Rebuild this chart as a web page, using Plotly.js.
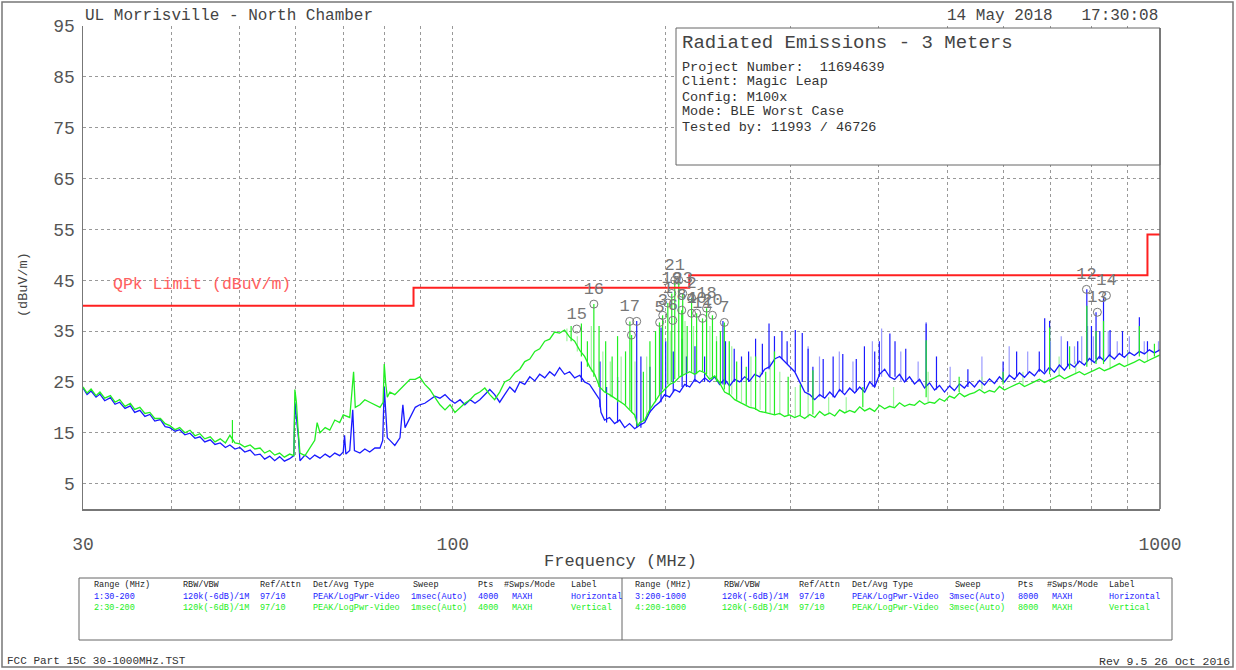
<!DOCTYPE html>
<html><head><meta charset="utf-8">
<script src="https://cdn.plot.ly/plotly-3.0.1.min.js"></script>
<style>html,body{margin:0;padding:0;background:#fff}#chart{width:1236px;height:670px}</style>
</head><body><div id="chart"></div>
<script>
// ---------- DATA ----------
const hFreq = [
 30,30.4,30.8,31.3,31.7,32.2,32.8,33.3,33.8,34.4,
 35.0,35.5,36.1,36.7,37.3,37.9,38.6,39.2,39.8,40.5,
 41.1,41.8,42.5,43.2,43.9,44.6,45.4,46.1,46.9,47.7,
 48.4,49.2,50.0,50.8,51.7,52.5,53.4,54.2,55.1,56.0,
 56.9,57.8,58.8,59.6,
 59.8,60.1,60.5,60.8,61.8,62.8,63.8,64.9,66.0,67.0,
 68.1,69.2,70.0,70.3,70.6,71.5,72.2,72.6,73.9,75.1,
 76.3,77.6,78.9,79.6,80.0,80.4,80.8,81.5,82.8,84.2,
 85.0,85.6,87.0,88.5,89.8,91.3,92.8,94.3,95.9,97.5,
 99.1,100.7,102.4,104,105.8,107.5,109.2,111,112.8,114.6,
 116.5,118.4,120.4,122.4,124.4,126.4,128.5,130.6,132.7,134.9,
 137.1,139.3,141.6,143.9,146.3,148.7,151.2,153.6,156.1,158.7,
 161.3,162,163.9,166.6,169.4,172.2,175,177.8,180.8,183.8,
 186.8,189.8,193,196.1,199.3,202.6,206,209.3,212.8,216.3,
 219.8,223.4,227.1,230.8,234.6,238.4,242.3,246.3,250.4,254.5,
 258.7,262.9,267.2,271.6,276.1,280.6,285.2,289.9,294.6,299.5,
 304.4,309.4,314.5,319.7,324.9,330.2,335.7,341.2,346.8,352.4,
 358.2,364.1,370.1,376.1,382.3,388.6,394.9,401.3,408,414.6,
 421.4,428.2,435.3,442.4,449.7,457.1,464.6,472.2,480,487.8,
 495.8,504,512,520.6,529,537.8,546.6,555.6,564.7,574,
 583.4,592.9,602.6,612.5,622.6,632.8,643.2,653.8,664.5,675.3,
 686.4,697.7,709,720.7,732.6,744.6,756.8,769.2,781.8,794.7,
 807.8,820.9,834.4,848.2,862,876.1,890.5,905.1,920,935.2,
 950.5,966,982,1000];
const hLevel = [
 23.8,22.5,23.2,22.0,22.6,21.3,21.9,20.6,21.0,19.8,
 20.3,19.0,19.4,18.2,18.6,17.3,17.6,16.2,16.0,15.3,
 15.6,14.6,14.9,13.9,14.2,13.2,13.6,12.7,13.0,12.1,
 12.6,11.8,12.1,11.2,11.6,10.6,10.8,9.8,10.4,9.5,
 10.3,9.4,9.9,10.5,
 21.0,18.0,14.0,9.5,10.6,9.8,10.6,10.0,10.8,10.2,
 11.0,10.5,11.2,14.5,10.8,11.5,19.5,11.5,11.0,11.8,
 11.2,12.0,12.0,13.5,24.0,19.0,14.0,13.5,12.5,14.0,
 20.5,16.0,18.0,20.0,20.5,20.8,21.5,22.2,21.8,22.5,
 21.5,20.8,21.5,20.5,21.5,20.8,21.5,22.5,23.5,22.5,
 21.0,22.5,24.0,23.0,25.0,24.5,26.0,25.2,26.5,25.8,
 27.0,26.2,27.8,26.5,27.0,25.8,26.3,25.0,24.5,23.0,
 21.5,19.0,17.5,18.0,16.8,17.5,16.0,16.8,15.8,16.5,
 17.0,19.0,20.2,21.0,22.5,22.0,23.5,23.0,24.5,24.0,
 25.5,24.8,25.8,25.0,26.0,24.5,25.5,24.2,25.5,25.0,
 26.0,25.2,26.5,26.0,27.5,28.0,29.5,30.0,29.0,28.0,
 27.0,25.0,23.0,22.5,21.5,22.5,21.8,23.0,22.0,23.5,
 22.5,23.8,22.8,24.0,23.0,25.0,24.0,26.5,27.5,26.0,
 25.5,26.5,25.0,26.0,24.6,25.5,23.8,24.8,23.4,24.3,
 23.0,24.2,23.3,24.6,23.8,25.0,24.0,25.3,24.4,25.6,
 24.7,26.0,25.0,26.3,25.5,26.8,25.9,27.0,26.2,27.5,
 26.6,27.9,26.9,28.3,27.3,28.6,27.9,29.1,28.3,29.6,
 28.8,30.0,29.1,30.3,29.5,30.6,29.8,30.8,30.2,31.0,
 30.5,31.3,30.7,31.3];

const vFreq = [
 30,30.4,30.8,31.3,31.7,32.2,32.8,33.3,33.8,34.4,
 35.0,35.5,36.1,36.7,37.3,37.9,38.6,39.2,39.8,40.5,
 41.1,41.8,42.5,43.2,43.9,44.6,45.4,46.1,46.9,47.7,
 48.4,49.2,50.0,50.8,51.7,52.5,53.4,54.2,55.1,56.0,
 56.9,57.8,58.8,59.6,
 59.8,60.1,60.4,60.8,61.8,62.8,63.8,64.3,64.9,66.0,
 67.0,68.1,69.2,70.0,71.5,72.4,72.8,73.9,75.1,76.3,
 77.6,78.9,79.7,80.0,80.4,80.8,81.5,82.8,84.2,85.6,
 87.0,88.5,89.8,91.3,92.8,94.3,95.9,97.5,99.1,100.7,
 102.4,104,105.8,107.5,109.2,111,112.8,114.6,116.5,118.4,
 120.4,122.4,124.4,126.4,128.5,130.6,132.7,134.9,137.1,139.3,
 141.6,143.9,146.3,148.7,151.2,153.6,156.1,158.7,161.3,163.9,
 166.6,169.4,172.2,175,177.8,180.8,182.6,183.8,186.8,189.8,
 193,196.1,199.3,202.6,206,209.3,212.8,216.3,219.8,223.4,
 227.1,230.8,234.6,238.4,242.3,246.3,250.4,254.5,258.7,262.9,
 267.2,271.6,276.1,280.6,285.2,289.9,294.6,299.5,
 304.4,309.4,314.5,319.7,324.9,330.2,335.7,341.2,346.8,352.4,
 358.2,364.1,370.1,376.1,382.3,388.6,394.9,401.3,408,414.6,
 421.4,428.2,435.3,442.4,449.7,457.1,464.6,472.2,480,487.8,
 495.8,504,512,520.6,529,537.8,546.6,555.6,564.7,574,
 583.4,592.9,602.6,612.5,622.6,632.8,643.2,653.8,664.5,675.3,
 686.4,697.7,709,720.7,732.6,744.6,756.8,769.2,781.8,794.7,
 807.8,820.9,834.4,848.2,862,876.1,890.5,905.1,920,935.2,
 950.5,966,982,1000];
const vLevel = [
 24.0,22.8,23.6,22.3,23.0,21.8,22.3,21.0,21.5,20.2,
 20.8,19.6,20.0,18.8,19.0,17.8,17.8,16.8,16.4,15.6,
 16.0,15.0,15.5,14.4,14.8,13.8,14.2,13.2,13.8,13.0,
 14.5,13.0,12.8,12.2,12.6,11.8,12.0,11.0,11.5,10.6,
 11.0,10.2,10.8,10.5,
 23.5,21.0,16.0,11.0,10.5,12.0,13.5,17.0,15.0,16.0,
 15.5,17.5,17.0,18.5,18.0,27.0,20.0,20.5,21.5,21.0,
 20.5,20.0,21.0,28.5,24.5,22.0,23.0,22.5,23.5,24.5,
 25.5,25.5,26.0,24.5,23.5,22.0,20.5,19.5,20.5,19.0,
 20.0,20.8,21.5,22.5,23.0,23.8,22.5,21.5,23.0,25.0,
 25.5,26.8,27.5,29.0,29.5,31.0,31.5,33.0,33.4,34.8,
 34.6,35.2,33.8,33.0,31.2,30.0,28.0,26.5,24.0,23.0,
 22.5,21.8,21.0,20.5,19.5,18.5,16.3,17.0,17.5,19.5,
 21.0,22.5,23.5,24.5,25.0,26.0,26.5,27.0,26.5,27.2,
 26.8,25.5,26.2,24.8,23.0,22.5,21.5,21.0,20.5,20.0,
 19.8,19.2,19.0,18.8,18.5,18.8,18.2,18.5,
 18.0,18.4,17.8,18.6,18.0,19.2,18.4,18.9,18.3,19.5,
 18.9,19.4,19.0,20.1,19.3,19.8,19.2,20.4,19.7,20.2,
 19.9,20.9,20.2,20.6,20.4,21.3,20.6,21.0,20.8,21.7,
 21.2,22.2,21.8,22.8,22.1,22.6,22.9,23.5,22.8,23.3,
 23.0,24.1,23.4,23.9,24.3,24.8,24.1,24.6,25.0,25.5,
 24.9,25.3,25.8,26.3,25.6,26.1,26.5,27.0,26.4,26.8,
 27.3,27.8,27.2,27.6,28.1,28.6,28.0,28.4,28.9,29.4,
 28.8,29.3,29.8,30.3];

// narrow emissions (spikes): frequency, floor, top
const hSpikeFreq = [152,161.5,165,171,182,184.5,190,197,200,205,211,214,220,227,241,243,250,256,262,268,274,280,285,292,297,305,312,318,323,334,345,356,372,382,395,401,415,422,437,467,483,535,600,627,675,687,698,740,765,788,800,812,822,832,850,885,935,960];
const hSpikeLow  = [25,20,17,17,16,16,19,21,22,23,24,24,25,25,24.5,24.5,25,25,25,26,26.5,27.5,29,29.5,28.5,27,25,23,21.5,22,22,23,23,23.5,24,26,26,26,25,24,23.5,24,25.5,26,27,27,27.5,28,28.5,29,29,29.5,29.5,29.5,30,30,31,31];
const hSpikeHigh = [29,29,24,26,37,30,28,35.7,33,31,33.5,30,32,30,37,33,31.5,30,31,33.5,32.5,36.5,34,35,33,35.2,34.6,31.5,28,29.5,30,30.5,29.5,32,31,33,34.5,33,31.5,36.5,30,27.5,29,31,31,37.5,37,33,33,43.2,36,38.7,35,41.9,35.2,35,37.7,33];

const vSpikeFreq = [48.8,147,152,155,158.3,161,164.5,168,171,175.5,178,179,186,190,193.5,196,198,201.4,204,206,208.7,210.7,211.4,214.5,217.6,221.2,225.5,228.5,232.9,236,239,242.1,246,252,260,268,277,285,298,310,323,380,467,520,600,698,745,788,812,832,935,982];
const vSpikeLow  = [13,33,30,28,26,24,23,22,21,20.5,19.5,19,17.5,19.5,21,22.5,23.5,24.5,25,25.5,26,26,26.5,27,27,26.5,27,26.5,25.5,25,24.5,23.5,22.5,21.5,20.5,19.5,19,18.5,18.5,18.4,18.6,20,22,23,24.5,26.5,27.5,28,28.5,28.5,30,30];
const vSpikeHigh = [17.5,36,36.5,33,40.3,36,33,30,34,31,36.9,34.2,27,33,35,36.7,38.1,40.5,42.4,45,45,39.1,42.4,36,41.5,38.5,37.5,39.5,38.1,33,35,36.7,33,29,28,30,27,31,26,24.5,27.3,24,33.2,26,27,35.7,32,40,35,37,36,32.5];

// weaker (lighter drawn) emissions
const hLightFreq = [318,330,352,368,392,404,430,455,467,505,560,612,650,700,725,757,775,790,805,845,870,905,950,995];
const hLightLow  = [23,22,23,23,24,26,25,25,24,24,24.5,26,26.5,27.5,28,28.5,28.5,29,29,30,30,30.5,30.5,31];
const hLightHigh = [32,30,31,29,33,35.5,31,29,36.8,28,30,32,31,33,34,32,34,36,34,35,33,34,33,33];
const vLightFreq = [145,150,157,163,167,173,181,188,203,213,219,231,236,248,256,264,272,281,290,305,318,340,360,420,470,560,640,720,760,850,900,960];
const vLightLow  = [33,31,27,23.5,22,21,18,17.5,24.5,26.5,26.5,25.5,25,22.5,21,20,19.5,18.8,18.5,18,18,18.6,19,20,21,23.5,24.3,26,26.5,27.5,28.3,29];
const vLightHigh = [35.5,34,36,31,29,30,29,30,35,37,36,36,34,32,29,30,27,29,27,24,26,22,22,24,27,26,27,30,29,31,31,31];

// QP limit (FCC Part 15 class B, 3 m)
const limitFreq  = [30,88,88,216,216,960,960,1000];
const limitLevel = [40,40,43.5,43.5,46,46,54,54];

// marker table
const markerFreq  = [149.7,158.3,177.9,182.0,178.9,196.1,198.1,201.4,204.7,204.0,206.0,208.7,211.4,210.7,217.6,217.6,221.2,225.5,228.5,232.9,242.1,787,815.5,840];
const markerLevel = [35.4,40.3,36.9,36.9,34.2,36.7,38.1,40.5,37.1,42.4,45.0,45.0,42.4,39.1,41.5,38.5,38.5,37.5,39.5,38.1,36.7,43.2,38.7,42.0];
const markerLabel = ["15","16","17","","","5","3","1","6","19","21","","23","8","2","4","10","11","18","20","7","12","13","14"];

const yTicks = [5,15,25,35,45,55,65,75,85,95];
const xTicks = [30,100,1000];
const xMinor = [40,50,60,70,80,90,200,300,400,500,600,700,800,900];

const tableHeader = ["Range (MHz)","RBW/VBW","Ref/Attn","Det/Avg Type","Sweep","Pts","#Swps/Mode","Label"];
const row1 = ["1:30-200","120k(-6dB)/1M","97/10","PEAK/LogPwr-Video","1msec(Auto)","4000","MAXH","Horizontal"];
const row2 = ["2:30-200","120k(-6dB)/1M","97/10","PEAK/LogPwr-Video","1msec(Auto)","4000","MAXH","Vertical"];
const row3 = ["3:200-1000","120k(-6dB)/1M","97/10","PEAK/LogPwr-Video","3msec(Auto)","8000","MAXH","Horizontal"];
const row4 = ["4:200-1000","120k(-6dB)/1M","97/10","PEAK/LogPwr-Video","3msec(Auto)","8000","MAXH","Vertical"];

const infoLines = ["Project Number:\u00a0\u00a011694639","Client: Magic Leap","Config: M100x","Mode: BLE Worst Case","Tested by: 11993 / 46726"];

// ---------- LAYOUT HELPERS ----------
const L=83, R=1160, T=26, B=509;
const px = x => (x-L)/(R-L);
const py = y => (B-y)/(B-T);
const MONO = '"Liberation Mono","DejaVu Sans Mono",monospace';
const BLUE='#1a1aff', GREEN='#22ee22', LBLUE='#9a9aff', LGREEN='#a0f5a0';

function spikes(f, lo, hi){
  const x=[], y=[];
  f.forEach((v,i)=>{x.push(v,v,null); y.push(lo[i],hi[i],null);});
  return {x,y};
}
const hs = spikes(hSpikeFreq,hSpikeLow,hSpikeHigh);
const vs = spikes(vSpikeFreq,vSpikeLow,vSpikeHigh);
const hl = spikes(hLightFreq,hLightLow,hLightHigh);
const vl = spikes(vLightFreq,vLightLow,vLightHigh);

const traces = [
  {x:hl.x,y:hl.y,type:'scatter',mode:'lines',line:{color:LBLUE,width:1.2},connectgaps:false,hoverinfo:'skip'},
  {x:vl.x,y:vl.y,type:'scatter',mode:'lines',line:{color:LGREEN,width:1.2},connectgaps:false,hoverinfo:'skip'},
  {x:hFreq,y:hLevel,type:'scatter',mode:'lines',line:{color:BLUE,width:1.3},hoverinfo:'skip'},
  {x:hs.x,y:hs.y,type:'scatter',mode:'lines',line:{color:BLUE,width:1.2},connectgaps:false,hoverinfo:'skip'},
  {x:vFreq,y:vLevel,type:'scatter',mode:'lines',line:{color:GREEN,width:1.3},hoverinfo:'skip'},
  {x:vs.x,y:vs.y,type:'scatter',mode:'lines',line:{color:GREEN,width:1.2},connectgaps:false,hoverinfo:'skip'},
  {x:limitFreq,y:limitLevel,type:'scatter',mode:'lines',line:{color:'#ff2020',width:2},hoverinfo:'skip'},
  {x:markerFreq,y:markerLevel,text:markerLabel,type:'scatter',mode:'markers+text',
   marker:{symbol:'circle-open',size:8,color:'#777',line:{width:1,color:'#777'}},
   textposition:'top center',textfont:{family:MONO,size:17,color:'#777'},cliponaxis:false,hoverinfo:'skip'}
];

const ann = [];
function A(text,x,y,opts){ann.push(Object.assign({text,x:px(x),y:py(y),xref:'paper',yref:'paper',showarrow:false,xanchor:'left',yanchor:'middle',font:{family:MONO,size:16,color:'#444'}},opts||{}));}

A('UL Morrisville - North Chamber',83,16);
A('14 May 2018\u00a0\u00a0\u00a017:30:08',1160,16,{xanchor:'right'});
A('Radiated Emissions - 3 Meters',680,43,{font:{family:MONO,size:19,color:'#444'}});
infoLines.forEach((t,i)=>A(t,680,67+i*15,{font:{family:MONO,size:13.5,color:'#333'}}));
A('QPk Limit (dBuV/m)',111,284,{font:{family:MONO,size:16.5,color:'#ff6060'}});
A('(dBuV/m)',24,285,{xanchor:'center',textangle:-90,font:{family:MONO,size:13.5,color:'#444'}});
A('Frequency (MHz)',620,561,{xanchor:'center',font:{family:MONO,size:17,color:'#444'}});
A('FCC Part 15C 30-1000MHz.TST',5,661,{font:{family:MONO,size:11,color:'#333'}});
A('Rev 9.5 26 Oct 2016',1232,661,{xanchor:'right',font:{family:MONO,size:11.5,color:'#333'}});

const hdrXL=[92,181,258,311,411,476,502,569], valXL=[92,181,258,311,409,476,510,569];
const hdrXR=[633,722,797,850,953,1016,1045,1107], valXR=[633,720,797,850,947,1016,1050,1107];
const tf = c => ({family:MONO,size:8.5,color:c});
tableHeader.forEach((t,i)=>{A(t,hdrXL[i],585,{font:tf('#222')});A(t,hdrXR[i],585,{font:tf('#222')});});
row1.forEach((t,i)=>A(t,valXL[i],597,{font:tf(BLUE)}));
row2.forEach((t,i)=>A(t,valXL[i],608,{font:tf(GREEN)}));
row3.forEach((t,i)=>A(t,valXR[i],597,{font:tf(BLUE)}));
row4.forEach((t,i)=>A(t,valXR[i],608,{font:tf(GREEN)}));

const shapes = [
  {type:'rect',xref:'paper',yref:'paper',x0:px(676),x1:px(1160),y0:py(28),y1:py(165),line:{color:'#666',width:1},fillcolor:'#fff',layer:'above'},
  {type:'line',xref:'paper',yref:'paper',x0:1,x1:1,y0:0,y1:py(28),line:{color:'#666',width:1.5}},
  {type:'rect',xref:'paper',yref:'paper',x0:px(79),x1:px(1172),y0:py(578),y1:py(640),line:{color:'#666',width:1}},
  {type:'line',xref:'paper',yref:'paper',x0:px(622),x1:px(622),y0:py(578),y1:py(640),line:{color:'#666',width:1}},
  {type:'rect',xref:'paper',yref:'paper',x0:px(2),x1:px(1233),y0:py(2),y1:py(667),line:{color:'#777',width:1.5}}
];

const layout = {
  width:1236,height:670,margin:{l:L,r:1236-R,t:T,b:670-B},
  paper_bgcolor:'#fff',plot_bgcolor:'#fff',showlegend:false,
  xaxis:{type:'log',range:[Math.log10(30),3],tickvals:xTicks,ticktext:xTicks.map(String),
    showline:true,linecolor:'#777',linewidth:1.5,showgrid:true,gridcolor:'#999',griddash:'dot',gridwidth:1,
    ticks:'outside',ticklen:18,tickcolor:'rgba(0,0,0,0)',tickfont:{family:MONO,size:18,color:'#555'},zeroline:false,
    minor:{tickvals:xMinor,showgrid:true,gridcolor:'#999',griddash:'dot',gridwidth:1,ticks:''}},
  yaxis:{range:[0,95],tickvals:yTicks,ticktext:yTicks.map(String),showline:true,linecolor:'#777',linewidth:1.5,
    showgrid:true,gridcolor:'#999',griddash:'dot',gridwidth:1,zeroline:false,ticks:'outside',ticklen:3,tickcolor:'rgba(0,0,0,0)',
    tickfont:{family:MONO,size:18,color:'#555'}},
  annotations:ann,shapes:shapes
};
Plotly.newPlot('chart',traces,layout,{staticPlot:true,displayModeBar:false});
</script></body></html>
